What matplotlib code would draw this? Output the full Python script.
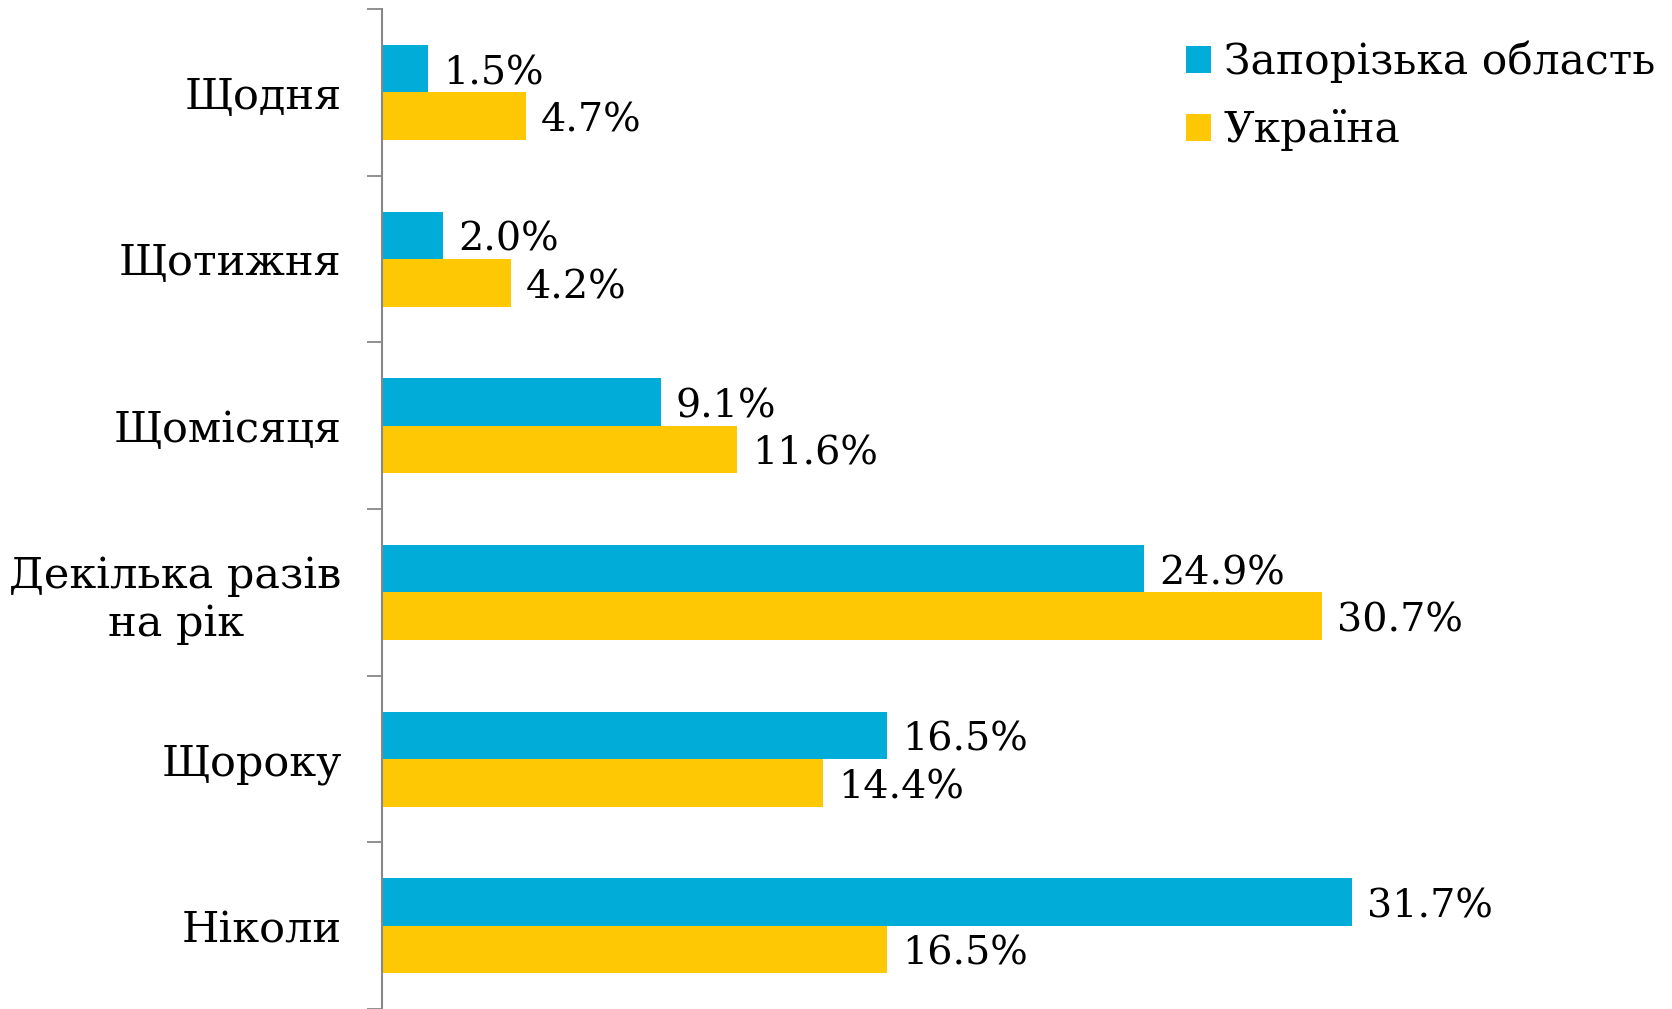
import matplotlib.pyplot as plt
import numpy as np

plt.rcParams['font.family'] = ['DejaVu Serif']

categories = ['Щодня', 'Щотижня', 'Щомісяця', 'Декілька разів\nна рік', 'Щороку', 'Ніколи']
zaporizhzhia = [1.5, 2.0, 9.1, 24.9, 16.5, 31.7]
ukraine = [4.7, 4.2, 11.6, 30.7, 14.4, 16.5]
series_names = ['Запорізька область', 'Україна']
colors = ['#02acd8', '#fec904']

fig = plt.figure(figsize=(16.72, 10.09), dpi=100)
ax = fig.add_axes([382 / 1672, 0, 1 - 382 / 1672, 1 - 9 / 1009])

y = np.arange(len(categories))
h = 0.285
b1 = ax.barh(y - h / 2, zaporizhzhia, height=h, color=colors[0], label=series_names[0])
b2 = ax.barh(y + h / 2, ukraine, height=h, color=colors[1], label=series_names[1])

# value labels right of each bar
for bars, vals in ((b1, zaporizhzhia), (b2, ukraine)):
    for bar, v in zip(bars, vals):
        ax.text(v + 0.5, bar.get_y() + bar.get_height() / 2 + 0.03, f'{v:.1f}%',
                va='center', ha='left', fontsize=28.5, color='black')

ax.set_ylim(len(categories) - 0.5, -0.5)
ax.set_xlim(0, 42.15)
ax.set_yticks(np.arange(len(categories) + 1) - 0.5)
ax.set_yticklabels([])
ax.set_yticks(y, minor=True)
ax.set_yticklabels(categories, minor=True, fontsize=31, ha='right', multialignment='center')
ax.tick_params(axis='y', which='major', length=11, width=1.3, color='#888888', direction='out')
ax.tick_params(axis='y', which='minor', length=0, pad=29)
ax.set_xticks([])
for s in ['top', 'right', 'bottom']:
    ax.spines[s].set_visible(False)
ax.spines['left'].set_color('#888888')
ax.spines['left'].set_linewidth(1.5)

ax.legend(loc='upper right', bbox_to_anchor=(1.01, 0.998), frameon=False, fontsize=30.5,
          handlelength=0.6, handleheight=0.6, handletextpad=0.3, labelspacing=0.62,
          borderaxespad=0.3)

fig.savefig('out.png', dpi=100)
